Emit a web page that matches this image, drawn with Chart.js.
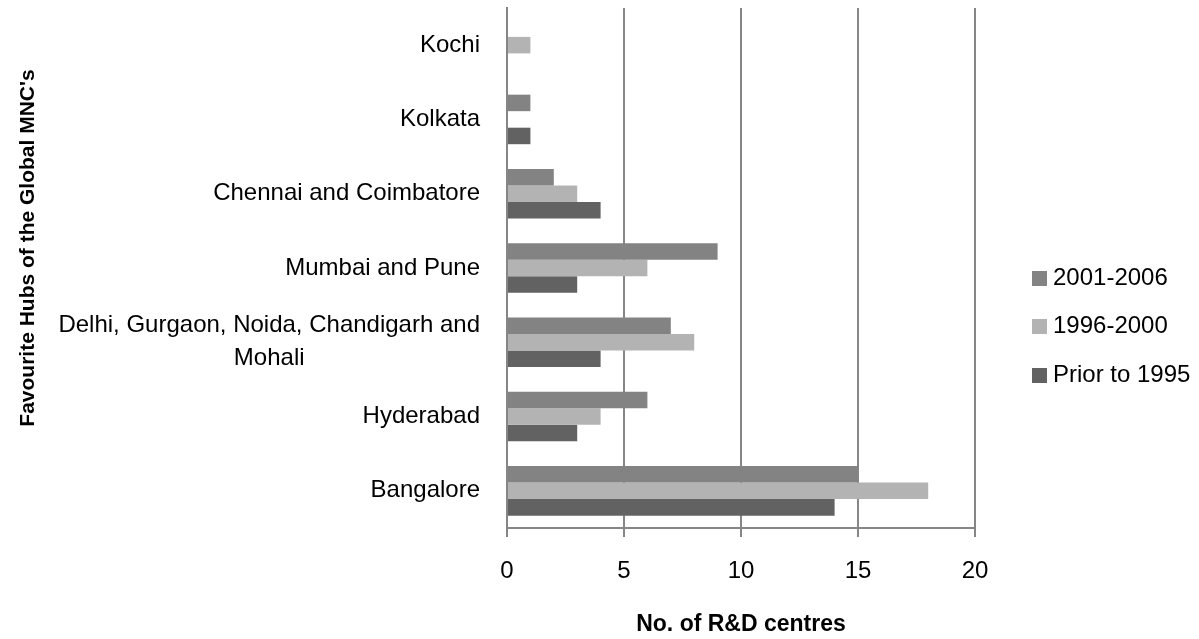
<!DOCTYPE html>
<html>
<head>
<meta charset="utf-8">
<script src="https://cdn.jsdelivr.net/npm/chart.js@4.4.1/dist/chart.umd.min.js"></script>
<style>
  html, body { margin: 0; padding: 0; background: #ffffff; }
  #wrap { width: 1199px; height: 639px; position: relative; }
</style>
</head>
<body>
<div id="wrap"><canvas id="chart" width="1199" height="639"></canvas></div>
<script>
// Hubs, listed top to bottom
const hubs = [
  'Kochi',
  'Kolkata',
  'Chennai and Coimbatore',
  'Mumbai and Pune',
  ['Delhi, Gurgaon, Noida, Chandigarh and', 'Mohali'],
  'Hyderabad',
  'Bangalore'
];

// Number of R&D centres set up in each period
const centres2001to2006 = [0, 1, 2, 9, 7, 6, 15];
const centres1996to2000 = [1, 0, 3, 6, 8, 4, 18];
const centresPriorTo1995 = [0, 1, 4, 3, 4, 3, 14];

const seriesNames = ['2001-2006', '1996-2000', 'Prior to 1995'];
const seriesColors = ['#838383', '#b3b3b3', '#626262'];

const xTicks = [0, 5, 10, 15, 20];
const xTitle = 'No. of R&D centres';
const yTitle = "Favourite Hubs of the Global MNC's";

const FONT = '"Liberation Sans", Arial, sans-serif';
const GRID = '#868686';

// Category labels, axis titles and legend are painted on top of the chart
const annotations = {
  id: 'annotations',
  afterDraw(chart) {
    const ctx = chart.ctx;
    const yScale = chart.scales.y;
    const area = chart.chartArea;
    ctx.save();
    ctx.fillStyle = '#000000';

    // category labels: block right-aligned, lines centred within the block
    ctx.font = '24px ' + FONT;
    ctx.textAlign = 'center';
    ctx.textBaseline = 'middle';
    const labelRight = area.left - 27;
    const lineH = 33;
    hubs.forEach((label, i) => {
      const lines = Array.isArray(label) ? label : [label];
      const w = Math.max(...lines.map(l => ctx.measureText(l).width));
      const cx = labelRight - w / 2;
      const cy = yScale.getPixelForTick(i);
      const y0 = cy - (lines.length - 1) * lineH / 2;
      lines.forEach((l, k) => ctx.fillText(l, cx, y0 + k * lineH));
    });

    // axis titles
    ctx.font = 'bold 23px ' + FONT;
    ctx.fillText(xTitle, (area.left + area.right) / 2, 625);

    ctx.save();
    ctx.translate(28, 248);
    ctx.rotate(-Math.PI / 2);
    ctx.font = 'bold 21px ' + FONT;
    ctx.fillText(yTitle, 0, 0);
    ctx.restore();

    // legend
    ctx.font = '24px ' + FONT;
    ctx.textAlign = 'left';
    chart.data.datasets.forEach((ds, i) => {
      const y = 278 + i * 48.5;
      ctx.fillStyle = ds.backgroundColor;
      ctx.fillRect(1032, Math.round(y - 7.5), 15, 15);
      ctx.fillStyle = '#000000';
      ctx.fillText(ds.label, 1053, y);
    });

    ctx.restore();
  }
};

new Chart(document.getElementById('chart'), {
  type: 'bar',
  data: {
    labels: hubs,
    datasets: [
      { label: seriesNames[0], data: centres2001to2006, backgroundColor: seriesColors[0] },
      { label: seriesNames[1], data: centres1996to2000, backgroundColor: seriesColors[1] },
      { label: seriesNames[2], data: centresPriorTo1995, backgroundColor: seriesColors[2] }
    ]
  },
  options: {
    indexAxis: 'y',
    responsive: false,
    devicePixelRatio: 1,
    animation: false,
    categoryPercentage: 0.667,
    barPercentage: 1.0,
    layout: { padding: { top: 8, right: 224, left: 0, bottom: 0 } },
    plugins: {
      legend: { display: false },
      tooltip: { enabled: false }
    },
    scales: {
      x: {
        min: xTicks[0],
        max: xTicks[xTicks.length - 1],
        ticks: {
          stepSize: xTicks[1] - xTicks[0],
          color: '#000000',
          font: { family: FONT, size: 24 },
          padding: 20
        },
        grid: { color: GRID, lineWidth: 2, tickLength: 9, drawTicks: true },
        border: { display: true, color: GRID, width: 2 },
        afterFit(scale) {
          scale.height = 111;
          scale.paddingLeft = 0;
          scale.paddingRight = 0;
        }
      },
      y: {
        ticks: { display: false },
        grid: { display: false },
        border: { display: true, color: GRID, width: 2 },
        afterFit(scale) {
          scale.width = 507;
          scale.paddingTop = 0;
          scale.paddingBottom = 0;
        }
      }
    }
  },
  plugins: [annotations]
});
</script>
</body>
</html>
